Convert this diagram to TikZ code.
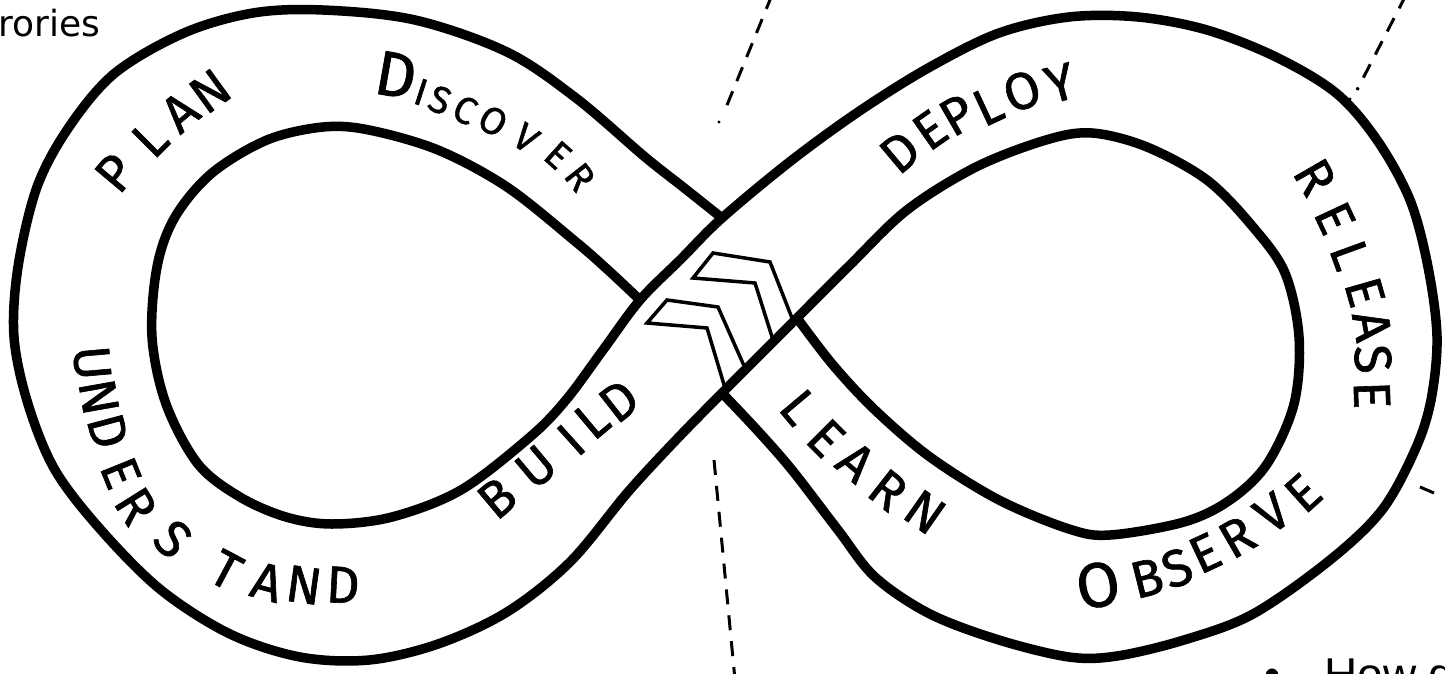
\documentclass[tikz,border=0pt]{standalone}
\usepackage{fontspec}
\setmainfont{DejaVu Sans}
\newfontfamily\labelfont[FakeBold=1.2]{Fira Sans}
\newfontfamily\notefont{Liberation Sans}
\newcommand\myLbl{\labelfont\fontsize{52pt}{52pt}\selectfont}
\newcommand\myBig{\labelfont\fontsize{63pt}{63pt}\selectfont}
\newcommand\mySmall{\labelfont\fontsize{38pt}{38pt}\selectfont}
\tikzset{
  band/.style={line width=9.5pt, line cap=round, line join=round},
  chev/.style={line width=3.5pt, line join=miter},
  guide/.style={line width=3pt, dash pattern=on 15pt off 11pt},
  lt/.style={font=\myLbl, inner sep=0pt, anchor=center},
}
\begin{document}
\begin{tikzpicture}[x=1pt,y=-1pt]
\fill[white] (0,0) rectangle (1445,674);
\clip (0,0) rectangle (1445,674);

% curve A: outer left loop -> inner right loop
\draw[band] plot[smooth, tension=0.55] coordinates {
 (722,218) (683,187) (645,157) (576,98) (507,52) (415,20) (323,10) (253,13)
 (184,33) (115,73) (69,127) (37,187) (18,267) (14,337) (28,404) (55,470)
 (101,530) (161,590) (230,634) (300,657) (369,660) (438,644) (507,612)
 (570,562) (628,492) (676,440) (722,393) (760,355) (797,318) (850,265)
 (907,210) (976,167) (1046,140) (1092,133) (1147,147) (1207,180) (1253,227)
 (1285,273) (1299,337) (1294,404) (1267,464) (1230,500) (1184,522) (1110,535)
 (1069,529) (999,500) (930,457) (875,410) (833,365) (797,318)};

% curve B: inner left loop -> outer right loop
\draw[band] plot[smooth, tension=0.55] coordinates {
 (640,300) (608,270) (576,242) (507,187) (438,150) (369,130) (323,127)
 (267,140) (212,173) (175,217) (157,267) (152,337) (166,404) (198,464)
 (240,497) (286,517) (332,524) (392,517) (461,490) (530,437) (566,400)
 (603,350) (640,300) (681,259) (722,218) (792,160) (861,110) (930,67)
 (999,33) (1069,17) (1138,17) (1207,30) (1276,57) (1336,93) (1377,140)
 (1410,200) (1428,267) (1437,337) (1431,400) (1415,450) (1382,510) (1330,560)
 (1253,614) (1184,640) (1117,656) (1069,657) (999,640) (930,614) (875,577)
 (838,530) (792,470) (757,430) (722,393)};

% chevrons
\draw[chev] (792,318) -- (770,262) -- (713,253) -- (693,278) -- (755,283) -- (773,340);
\draw[chev] (745,368) -- (718,307) -- (667,300) -- (647,323) -- (707,328) -- (725,388);

% dashed guides
\draw[guide] (772,-5) -- (725,110);
\fill (719,122) circle (1.6);
\draw[guide] (1406,-5) -- (1357,90);
\fill (1350,99) circle (1.6);
\draw[guide] (714,460) -- (735,680);
\draw[line width=3pt] (1420,487) -- (1434,493);

% labels, letter by letter
\foreach \ch/\x/\y/\r [count=\i] in {P/115/173/50, L/150/139/45, A/180/112/40, N/210/91/36}
  \node[lt, rotate=\r] (plan\i) at (\x,\y) {\ch};
\node[lt, font=\myBig, rotate=-10] (disc1) at (396,75) {D};
\foreach \ch/\x/\y/\r [count=\i from 2] in {I/421/92/-18, S/440/100/-22, C/465/110/-26, O/493/121/-30, V/526/138/-35, E/558/155/-42, R/580/177/-52}
  \node[lt, font=\mySmall, rotate=\r] (disc\i) at (\x,\y) {\ch};
\foreach \ch/\x/\y/\r [count=\i] in {D/900/152/40, E/930/130/35, P/957/115/30, L/988/106/25, O/1022/91/20, Y/1060/83/15}
  \node[lt, rotate=\r] (depl\i) at (\x,\y) {\ch};
\foreach \ch/\x/\y/\r [count=\i] in {R/1315/177/-60, E/1335/218/-65, L/1350/255/-70, E/1365/292/-74, A/1372/326/-80, S/1373/359/-85, E/1372/395/-88}
  \node[lt, rotate=\r] (rel\i) at (\x,\y) {\ch};
\node[lt, font=\myBig, rotate=10] (obs1) at (1098,585) {O};
\foreach \ch/\x/\y/\r [count=\i from 2] in {B/1147/578/14, S/1177/568/20, E/1205/553/25, R/1237/537/30, V/1272/513/35, E/1303/493/42}
  \node[lt, rotate=\r] (obs\i) at (\x,\y) {\ch};
\foreach \ch/\x/\y/\r [count=\i] in {L/799/407/-50, E/826/438/-45, A/856/462/-40, R/888/490/-38, N/925/512/-35}
  \node[lt, rotate=\r] (learn\i) at (\x,\y) {\ch};
\foreach \ch/\x/\y/\r [count=\i] in {B/497/498/40, U/536/467/40, I/571/440/42, L/592/420/40, D/619/401/38}
  \node[lt, rotate=\r] (build\i) at (\x,\y) {\ch};
\foreach \ch/\x/\y/\r [count=\i] in {U/92/363/-85, N/99/397/-80, D/108/431/-75, E/121/473/-68, R/136/506/-58, S/173/539/-45, T/226/570/-28, A/267/582/-15, N/304/585/-8, D/343/585/-3}
  \node[lt, rotate=\r] (und\i) at (\x,\y) {\ch};

% cut-off side texts
\node[anchor=base west, inner sep=0pt, font=\fontsize{36pt}{36pt}\selectfont] (rories) at (-2,37) {rories};
\node[anchor=base, inner sep=0pt, font=\notefont\fontsize{46pt}{46pt}\selectfont] (bullet) at (1273,690) {•};
\node[anchor=base west, inner sep=0pt, font=\notefont\fontsize{46pt}{46pt}\selectfont] (howd) at (1324,690) {How d};
\end{tikzpicture}
\end{document}
